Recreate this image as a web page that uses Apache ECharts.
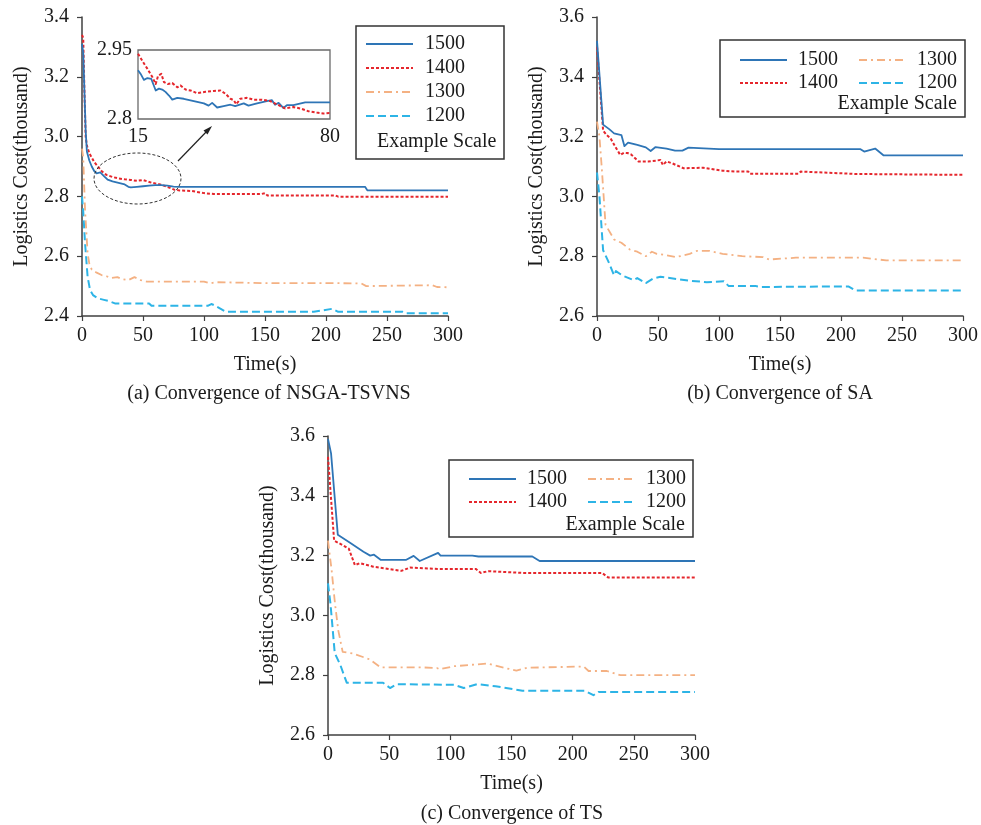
<!DOCTYPE html>
<html>
<head>
<meta charset="utf-8">
<script src="https://cdn.jsdelivr.net/npm/echarts@6/dist/echarts.min.js"></script>
<style>
  html, body { margin: 0; padding: 0; background: #fff; }
  #chart { width: 981px; height: 825px; }
</style>
</head>
<body>
<div id="chart"></div>
<script>
// ---------- (a) NSGA-TSVNS ----------
const aTime1500 = [0, 1, 2, 3, 4, 6, 8, 10, 12, 15, 18, 21, 25, 30, 35, 38, 40, 45, 50, 55, 60, 65, 70, 75, 80, 232, 234, 300];
const aCost1500 = [3.31, 3.28, 3.15, 3.02, 2.95, 2.92, 2.90, 2.885, 2.877, 2.88, 2.868, 2.856, 2.85, 2.845, 2.84, 2.832, 2.83, 2.832, 2.834, 2.836, 2.838, 2.838, 2.836, 2.833, 2.832, 2.832, 2.82, 2.82];
const aTime1400 = [0, 1, 2, 3, 4, 6, 8, 10, 13, 16, 20, 25, 30, 35, 40, 45, 50, 57, 64, 70, 76, 80, 90, 100, 108, 147, 150, 152, 208, 210, 300];
const aCost1400 = [3.34, 3.33, 3.15, 3.00, 2.97, 2.944, 2.93, 2.915, 2.90, 2.885, 2.872, 2.865, 2.86, 2.857, 2.855, 2.852, 2.855, 2.846, 2.84, 2.832, 2.822, 2.82, 2.818, 2.811, 2.808, 2.808, 2.811, 2.803, 2.803, 2.799, 2.799];
const aTime1300 = [0, 1, 2.5, 4.6, 6, 8, 12, 16, 20, 24, 29, 33, 38, 43, 48, 53, 100, 105, 110, 150, 200, 229, 233, 287, 291, 300];
const aCost1300 = [2.96, 2.93, 2.755, 2.61, 2.575, 2.555, 2.545, 2.537, 2.533, 2.527, 2.53, 2.523, 2.52, 2.53, 2.52, 2.515, 2.515, 2.509, 2.513, 2.51, 2.51, 2.509, 2.50, 2.503, 2.497, 2.496];
const aTime1200 = [0, 1, 2.5, 4.6, 6.6, 9, 13, 18, 22, 27, 55, 57, 103, 106, 108, 118, 190, 205, 210, 263, 266, 300];
const aCost1200 = [2.80, 2.75, 2.643, 2.531, 2.487, 2.47, 2.459, 2.454, 2.45, 2.442, 2.442, 2.434, 2.434, 2.44, 2.437, 2.414, 2.414, 2.424, 2.414, 2.414, 2.409, 2.409];

// zoomed view of the 1500 / 1400 runs, 15 s to 80 s
const zTime1500 = [15, 15.9, 17, 18.2, 19.5, 21, 22.1, 23.2, 24.3, 25.5, 26.6, 28.3, 30.5, 33.9, 37.3, 38.9, 40.1, 41.8, 44, 46.3, 47.9, 50.8, 52.4, 55.3, 58.6, 60.3, 61.4, 62.6, 64.2, 65.4, 67.6, 71.6, 80];
const zCost1500 = [2.906, 2.898, 2.885, 2.889, 2.887, 2.862, 2.866, 2.864, 2.859, 2.851, 2.842, 2.846, 2.844, 2.839, 2.834, 2.829, 2.835, 2.825, 2.828, 2.831, 2.828, 2.834, 2.829, 2.834, 2.839, 2.841, 2.831, 2.835, 2.824, 2.83, 2.83, 2.836, 2.836];
const zTime1400 = [15, 16.5, 18.2, 19.8, 21, 21.8, 22.9, 23.8, 25.1, 26.6, 28.3, 29.4, 31.1, 32.8, 35, 37.8, 40.6, 42.9, 44.6, 46.3, 47.4, 48.3, 49.6, 51.9, 54.1, 56.9, 59.7, 62.6, 64.8, 67.6, 69.9, 72.7, 75.5, 77.7, 80];
const zCost1400 = [2.942, 2.926, 2.909, 2.892, 2.876, 2.894, 2.898, 2.88, 2.876, 2.878, 2.869, 2.873, 2.864, 2.862, 2.856, 2.859, 2.861, 2.862, 2.855, 2.844, 2.841, 2.832, 2.844, 2.846, 2.842, 2.842, 2.839, 2.83, 2.823, 2.826, 2.823, 2.817, 2.814, 2.812, 2.813];

// ---------- (b) SA ----------
const bTime1500 = [0, 5, 10, 14, 20, 22.5, 25.5, 33, 40, 44, 48, 57, 64, 70, 75, 100, 216, 219, 228, 235, 300];
const bCost1500 = [3.52, 3.24, 3.225, 3.211, 3.205, 3.168, 3.18, 3.172, 3.164, 3.152, 3.165, 3.16, 3.153, 3.153, 3.163, 3.158, 3.158, 3.15, 3.16, 3.137, 3.137];
const bTime1400 = [0, 5, 8, 11, 15, 19, 22, 25, 28, 34, 42, 49, 52, 54, 57, 62, 71, 87, 103, 114, 124, 125, 165, 167, 185, 212, 300];
const bCost1400 = [3.50, 3.22, 3.205, 3.195, 3.166, 3.139, 3.146, 3.145, 3.14, 3.117, 3.117, 3.12, 3.122, 3.105, 3.117, 3.11, 3.094, 3.096, 3.086, 3.083, 3.083, 3.076, 3.076, 3.083, 3.08, 3.075, 3.072];
const bTime1300 = [0, 2, 4, 7, 14, 20, 27, 33, 40, 45, 49, 55, 65, 76, 82, 92, 103, 119, 136, 141, 163, 218, 237, 300];
const bCost1300 = [3.25, 3.20, 3.09, 2.905, 2.856, 2.845, 2.822, 2.815, 2.80, 2.815, 2.808, 2.805, 2.797, 2.808, 2.818, 2.818, 2.808, 2.80, 2.797, 2.789, 2.795, 2.795, 2.786, 2.786];
const bTime1200 = [0, 2, 5, 10, 14, 15.5, 21, 30, 33, 40, 46, 52, 65, 76, 90, 104, 108, 130, 135, 206, 212, 300];
const bCost1200 = [3.08, 3.00, 2.82, 2.776, 2.736, 2.75, 2.735, 2.72, 2.727, 2.71, 2.725, 2.731, 2.724, 2.718, 2.713, 2.716, 2.70, 2.70, 2.697, 2.699, 2.685, 2.685];

// ---------- (c) TS ----------
const cTime1500 = [0, 2.5, 8, 18, 29, 34.5, 37.6, 43, 64, 70, 75, 90, 92, 118, 123, 167, 173, 300];
const cCost1500 = [3.59, 3.542, 3.27, 3.243, 3.213, 3.20, 3.203, 3.186, 3.186, 3.199, 3.182, 3.209, 3.20, 3.20, 3.197, 3.197, 3.182, 3.182];
const cTime1400 = [0, 5, 12, 17, 22, 26, 37, 50, 60, 67, 91, 121, 125, 131, 159, 224, 229, 300];
const cCost1400 = [3.53, 3.25, 3.235, 3.223, 3.168, 3.175, 3.163, 3.155, 3.149, 3.16, 3.155, 3.155, 3.142, 3.148, 3.142, 3.142, 3.127, 3.127];
const cTime1300 = [0, 3, 5.7, 8.4, 12, 20, 34, 43, 78, 89, 91, 103, 130, 154, 163, 209, 213, 228, 239, 300];
const cCost1300 = [3.25, 3.15, 3.04, 2.95, 2.878, 2.873, 2.853, 2.826, 2.826, 2.824, 2.82, 2.83, 2.839, 2.815, 2.825, 2.829, 2.814, 2.814, 2.80, 2.80];
const cTime1200 = [0, 2, 5.5, 10, 15.3, 45, 50.7, 56, 103, 111, 122, 137, 159, 210, 217, 221, 300];
const cCost1200 = [3.107, 3.04, 2.874, 2.835, 2.775, 2.775, 2.757, 2.77, 2.768, 2.757, 2.77, 2.763, 2.748, 2.748, 2.733, 2.744, 2.744];

// axis ticks and labels
const timeTicks = [0, 50, 100, 150, 200, 250, 300];
const scaleNames = ['1500', '1400', '1300', '1200'];
const captions = ['(a) Convergence of NSGA-TSVNS', '(b) Convergence of SA', '(c) Convergence of TS'];
const insetTimeLabels = [15, 80];
const insetCostLabels = [2.8, 2.95];

const FONT = 'Liberation Serif';
const TXT = '#1a1a1a';
const AXIS = '#404040';

const styles = {
  '1500': { color: '#2e75b6', width: 1.8, type: 'solid' },
  '1400': { color: '#e5262c', width: 2, type: [3, 2] },
  '1300': { color: '#f4b183', width: 1.8, type: [8, 4, 2, 4] },
  '1200': { color: '#2db4e6', width: 2, type: [8, 4] }
};

function zip(ts, vs) { return ts.map((t, i) => [t, vs[i]]); }

const grids = [
  { left: 82, top: 17, width: 366, height: 299 },
  { left: 597, top: 17, width: 367, height: 299 },
  { left: 328, top: 436, width: 367, height: 299 },
  { left: 138, top: 50, width: 192, height: 69, show: true, borderColor: '#6a6a6a', borderWidth: 1.3, backgroundColor: '#fff', z: 3 }
];

function mainX(gi) {
  return {
    type: 'value', gridIndex: gi, min: 0, max: 300, interval: 50,
    name: 'Time(s)', nameLocation: 'middle', nameGap: 39,
    nameTextStyle: { fontFamily: FONT, fontSize: 20, color: TXT },
    axisLine: { show: true, lineStyle: { color: AXIS, width: 1.5 } },
    axisTick: { show: true, length: 5, lineStyle: { color: AXIS, width: 1.2 } },
    axisLabel: { fontFamily: FONT, fontSize: 20, color: TXT, margin: 10, customValues: timeTicks },
    splitLine: { show: false }
  };
}
function mainY(gi, min, max) {
  return {
    type: 'value', gridIndex: gi, min: min, max: max, interval: 0.2,
    name: 'Logistics Cost(thousand)', nameLocation: 'middle', nameGap: 50,
    nameTextStyle: { fontFamily: FONT, fontSize: 20, color: TXT },
    axisLine: { show: true, lineStyle: { color: AXIS, width: 1.5 } },
    axisTick: { show: true, length: 5, lineStyle: { color: AXIS, width: 1.2 } },
    axisLabel: { fontFamily: FONT, fontSize: 20, color: TXT, margin: 13, formatter: v => v.toFixed(1) },
    splitLine: { show: false }
  };
}

const xAxes = [mainX(0), mainX(1), mainX(2), {
  type: 'value', gridIndex: 3, min: 15, max: 80,
  axisLine: { show: false }, axisTick: { show: false }, splitLine: { show: false },
  axisLabel: { fontFamily: FONT, fontSize: 20, color: TXT, margin: 8, customValues: insetTimeLabels }
}];
const yAxes = [mainY(0, 2.4, 3.4), mainY(1, 2.6, 3.6), mainY(2, 2.6, 3.6), {
  type: 'value', gridIndex: 3, min: 2.8, max: 2.95,
  axisLine: { show: false }, axisTick: { show: false }, splitLine: { show: false },
  axisLabel: { fontFamily: FONT, fontSize: 20, color: TXT, margin: 6, customValues: insetCostLabels }
}];

const panelData = [
  [[aTime1500, aCost1500], [aTime1400, aCost1400], [aTime1300, aCost1300], [aTime1200, aCost1200]],
  [[bTime1500, bCost1500], [bTime1400, bCost1400], [bTime1300, bCost1300], [bTime1200, bCost1200]],
  [[cTime1500, cCost1500], [cTime1400, cCost1400], [cTime1300, cCost1300], [cTime1200, cCost1200]]
];

function lineSeries(name, gi, pts, z) {
  const s = styles[name];
  return {
    type: 'line', name: name, xAxisIndex: gi, yAxisIndex: gi,
    data: pts, showSymbol: false, symbol: 'none', animation: false,
    z: z,
    lineStyle: { color: s.color, width: s.width, type: s.type, cap: 'butt', join: 'round' },
    itemStyle: { color: s.color }
  };
}

const series = [];
panelData.forEach((panel, gi) => {
  panel.forEach((p, k) => series.push(lineSeries(scaleNames[k], gi, zip(p[0], p[1]), 2 + (3 - k) * 0.01)));
});
series.push(lineSeries('1500', 3, zip(zTime1500, zCost1500), 4));
series.push(lineSeries('1400', 3, zip(zTime1400, zCost1400), 4));

function legendBlock(names, left, top, gap, padLeft) {
  return {
    data: names, orient: 'vertical', left: left, top: top,
    itemWidth: 47, itemHeight: 14, itemGap: gap, padding: 0,
    selectedMode: false,
    itemStyle: { opacity: 0 },
    lineStyle: { width: 2 },
    textStyle: { fontFamily: FONT, fontSize: 20, color: TXT, padding: [0, 0, 0, padLeft] }
  };
}

const legends = [
  legendBlock(scaleNames, 365, 34, 4, 7),
  legendBlock(['1500', '1400'], 739, 50, 3, 6),
  legendBlock(['1300', '1200'], 858, 50, 3, 6),
  legendBlock(['1500', '1400'], 468, 469, 3, 6),
  legendBlock(['1300', '1200'], 587, 469, 3, 6)
];

function txt(x, y, text, align) {
  return {
    type: 'text', x: x, y: y, silent: true,
    style: { text: text, fontFamily: FONT, fontSize: 20, fill: TXT, align: align || 'center', verticalAlign: 'middle' }
  };
}
function box(x, y, w, h) {
  return {
    type: 'rect', silent: true, shape: { x: x, y: y, width: w, height: h },
    style: { fill: 'none', stroke: '#333', lineWidth: 1.5 }
  };
}

const graphics = [
  box(356, 26, 148, 133),
  txt(377, 142, 'Example Scale', 'left'),
  box(720, 40, 245, 77),
  txt(957, 104, 'Example Scale', 'right'),
  box(449, 460, 244, 77),
  txt(685, 525, 'Example Scale', 'right'),
  txt(269, 394, captions[0]),
  txt(780, 394, captions[1]),
  txt(512, 814, captions[2]),
  {
    type: 'ellipse', silent: true, shape: { cx: 137.5, cy: 178.5, rx: 43.5, ry: 25.5 },
    style: { fill: 'none', stroke: '#333', lineWidth: 1, lineDash: [3, 2] }, z: 10
  },
  {
    type: 'line', silent: true, shape: { x1: 178, y1: 161, x2: 209, y2: 129 },
    style: { stroke: '#222', lineWidth: 1.2 }, z: 10
  },
  {
    type: 'polygon', silent: true, shape: { points: [[212, 126], [203.5, 130.5], [207.5, 134.5]] },
    style: { fill: '#222' }, z: 10
  }
];

const chart = echarts.init(document.getElementById('chart'), null, { renderer: 'canvas' });
chart.setOption({
  backgroundColor: '#fff',
  animation: false,
  grid: grids,
  xAxis: xAxes,
  yAxis: yAxes,
  legend: legends,
  series: series,
  graphic: graphics
});
</script>
</body>
</html>
